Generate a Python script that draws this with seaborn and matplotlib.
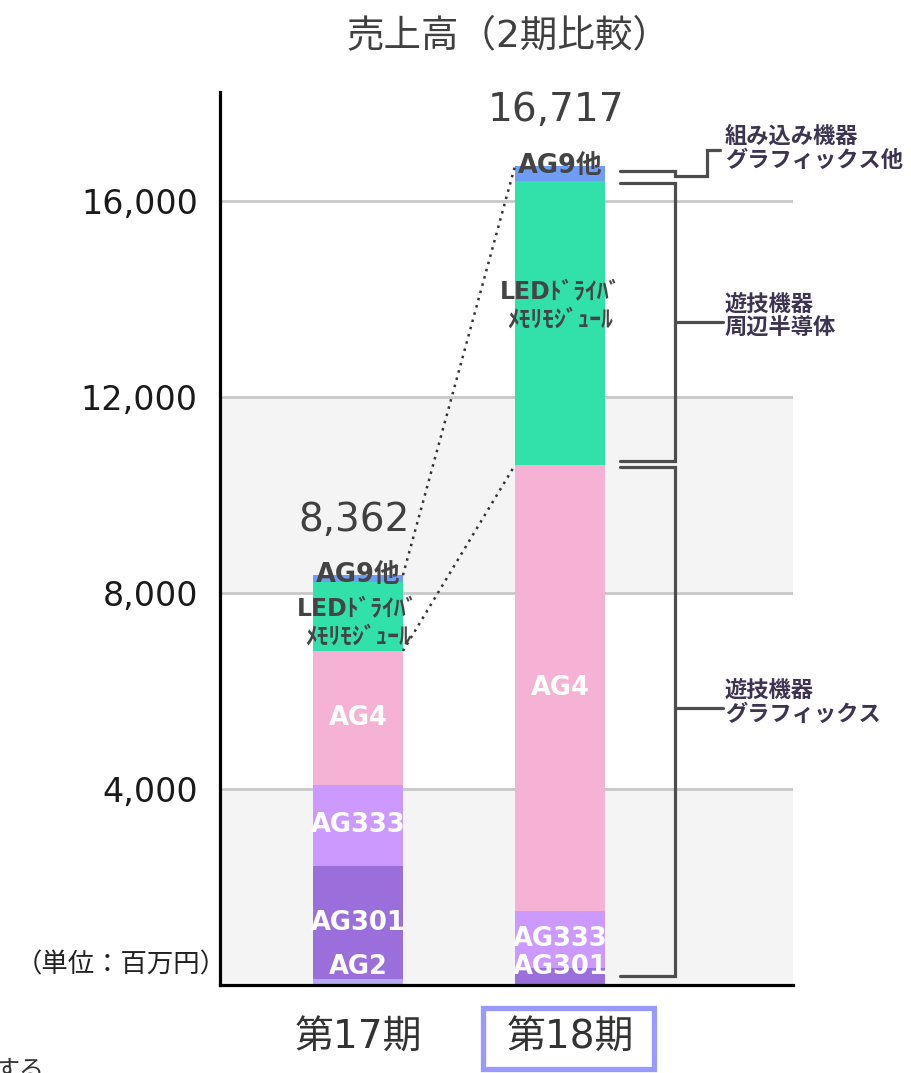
import numpy as np
import pandas as pd
import seaborn as sns
import matplotlib.pyplot as plt
from matplotlib.patches import Rectangle
from matplotlib.transforms import ScaledTranslation

sns.set_theme(style="white")
plt.rcParams["font.family"] = ["DejaVu Sans", "Noto Sans CJK JP"]

# ---- data (百万円) ----
periods = ["第17期", "第18期"]
segments = ["AG2", "AG301", "AG333", "AG4", "LED", "AG9他"]
seg_labels = ["AG2", "AG301", "AG333", "AG4", "LEDﾄﾞﾗｲﾊﾞ\nﾒﾓﾘﾓｼﾞｭｰﾙ", "AG9他"]
sales_17 = [120, 2309, 1653, 2734, 1409, 137]
sales_18 = [0, 347, 1163, 9103, 5797, 307]
totals = [8362, 16717]
y_ticks = [4000, 8000, 12000, 16000]

colors = ["#b6a8f4", "#9a6fdb", "#cc99ff", "#f5b2d4", "#32e0aa", "#6f9df5"]
text_colors = ["white", "white", "white", "white", "#444444", "#444444"]

# 右側ブラケット (第18期のセグメント index 範囲)
groups = [("組み込み機器\nグラフィックス他", 5, 6),
          ("遊技機器\n周辺半導体", 4, 5),
          ("遊技機器\nグラフィックス", 0, 4)]

rows = []
for p, vals in zip(periods, [sales_17, sales_18]):
    cum = np.cumsum(vals)
    for s, v, top in zip(segments, vals, cum):
        rows.append({"period": p, "segment": s, "value": v, "top": top, "bottom": top - v})
df = pd.DataFrame(rows)

fig = plt.figure(figsize=(9.12, 10.73), dpi=100)
ax = fig.add_axes([220 / 912, 1 - 985 / 1073, 573 / 912, 893 / 1073])

# 背景の帯とグリッド
ax.axhspan(0, 4000, color="#f4f4f4", zorder=0, lw=0)
ax.axhspan(8000, 12000, color="#f4f4f4", zorder=0, lw=0)
for t in y_ticks:
    ax.axhline(t, color="#c8c8c8", lw=2, zorder=0.5)

bar_w = 0.445
# 積み上げ: 上のセグメントから順に累積値で重ね描き
for i in reversed(range(len(segments))):
    sub = df[df["segment"] == segments[i]]
    sns.barplot(data=sub, x="period", y="top", order=periods, color=colors[i],
                width=bar_w, saturation=1, errorbar=None, linewidth=0, ax=ax, zorder=2)

# セグメントラベル
led_pos = [0.41, 0.56]  # LEDラベルのセグメント内の高さ位置
for xi, p in enumerate(periods):
    sub = df[df["period"] == p].reset_index(drop=True)
    for i, r in sub.iterrows():
        if r["value"] <= 0:
            continue
        fs = 18.5
        if segments[i] == "AG9他":
            y = r["top"]
        elif segments[i] == "LED":
            y = r["bottom"] + r["value"] * led_pos[xi]
            fs = 17
        else:
            y = max((r["top"] + r["bottom"]) / 2, 360)
        ax.text(xi, y, seg_labels[i], ha="center", va="center", fontsize=fs,
                fontweight="bold", color=text_colors[i], zorder=4, linespacing=1.2)

# 合計
for xi, t in enumerate(totals):
    ax.annotate(f"{t:,}", (xi, t), xytext=(-3, 32), textcoords="offset points",
                ha="center", va="baseline", fontsize=28, color="#404040")

# 点線 (合計, AG4上端)
cum17 = np.cumsum(sales_17)
cum18 = np.cumsum(sales_18)
ax.plot([bar_w / 2, 1 - bar_w / 2], [totals[0], totals[1]], ls=(0, (1, 2)),
        color="#333333", lw=1.8, zorder=3)
ax.plot([bar_w / 2, 1 - bar_w / 2], [cum17[3], cum18[3]], ls=(0, (1, 2)),
        color="#333333", lw=1.8, zorder=3)

# ブラケット
bc = "#4d4d4d"
x0 = 1 + bar_w / 2 + 0.074
xv = 1.57
xt = 1.805
for name, lo, hi in groups:
    y_lo = cum18[lo - 1] if lo > 0 else 0
    y_hi = cum18[hi - 1]
    if name.startswith("組み込み"):
        yc = (y_lo + y_hi) / 2 + 45
        ax.plot([x0, xv, xv, 1.725, 1.725, 1.79],
                [yc, yc, yc - 100, yc - 100, yc + 420, yc + 420],
                color=bc, lw=2.3, solid_joinstyle="miter", zorder=3)
        ax.text(xt + 0.01, yc + 460, name, ha="left", va="center", fontsize=16,
                fontweight="bold", color="#3d3550", linespacing=1.15)
        continue
    a = y_lo + 190 if lo == 0 else y_lo + 80
    b = y_hi - 40
    ax.plot([x0, xv, xv, x0], [b, b, a, a], color=bc, lw=2.3,
            solid_joinstyle="miter", zorder=3)
    ym = (a + b) / 2 + (270 if lo == 0 else 0)
    ax.plot([xv, xt], [ym, ym], color=bc, lw=2.3, zorder=3)
    ax.text(xt + 0.01, ym + 120, name, ha="left", va="center", fontsize=16,
            fontweight="bold", color="#3d3550", linespacing=1.15)

# 軸
ax.set_xlim(-0.683, 2.153)
ax.set_ylim(0, 18220)
ax.set_xlabel("")
ax.set_ylabel("")
ax.set_yticks(y_ticks)
ax.set_yticklabels([f"{v:,}" for v in y_ticks], fontsize=24, color="#1a1a1a")
ax.set_xticks([0, 1])
ax.set_xticklabels(periods, fontsize=28, color="#333333")
ax.tick_params(axis="y", length=0, pad=16)
ax.tick_params(axis="x", length=0, pad=24)
xl = ax.get_xticklabels()[1]
xl.set_transform(xl.get_transform() + ScaledTranslation(0.1, 0, fig.dpi_scale_trans))
for s in ["top", "right"]:
    ax.spines[s].set_visible(False)
for s in ["left", "bottom"]:
    ax.spines[s].set_color("black")
    ax.spines[s].set_linewidth(2.3)
    ax.spines[s].set_zorder(5)

# 第18期の枠
ax.add_patch(Rectangle((0.618, -0.094), 0.848, 0.068, transform=ax.get_xaxis_transform(),
                       fill=False, edgecolor="#9999ff", lw=3.8, clip_on=False))

ax.text(0.012, 0.0224, "（単位：百万円）", transform=ax.transAxes, ha="right",
        va="center", fontsize=19, color="#222222")

fig.text(508 / 912, 1 - 36 / 1073, "売上高（2期比較）", ha="center", va="center",
         fontsize=27, color="#404040")
fig.text(45 / 912, 14 / 1073, "する", ha="right", va="top", fontsize=18, color="#333333")

fig.savefig("out.png", dpi=100)
